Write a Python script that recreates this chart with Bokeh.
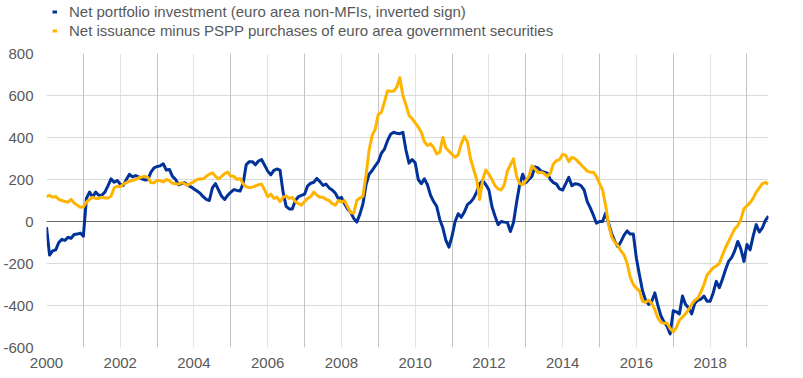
from bokeh.plotting import figure
from bokeh.layouts import column
from bokeh.models import Range1d, FixedTicker, Grid, Span, Legend, LegendItem
from bokeh.embed import file_html
from bokeh.resources import INLINE

# ---- data (monthly, Jan 2000 - Aug 2019), EUR billions ----
start_year = 2000

net_portfolio_investment = [
    -27, -160, -140, -135, -100, -85, -90, -75, -80, -62, -60, -55,      # 2000
    -70, 110, 140, 115, 140, 125, 125, 140, 170, 203, 187, 195,          # 2001
    178, 172, 200, 225, 212, 218, 212, 203, 198, 200, 235, 255,          # 2002
    262, 265, 275, 245, 248, 215, 200, 175, 180, 185, 172, 165,          # 2003
    155, 145, 135, 118, 105, 100, 160, 180, 150, 120, 105, 125,          # 2004
    140, 152, 148, 145, 180, 270, 285, 285, 270, 288, 295, 268,          # 2005
    240, 222, 243, 250, 245, 140, 72, 60, 60, 100, 118, 124,             # 2006
    130, 170, 182, 187, 205, 190, 172, 178, 160, 150, 135, 108,          # 2007
    115, 85, 60, 44, 15, -3, 35, 84, 175, 225, 243, 265,                 # 2008
    285, 325, 345, 385, 415, 425, 420, 418, 425, 340, 278, 295,          # 2009
    280, 200, 180, 203, 175, 125, 95, 72, 10, -30, -90, -122,            # 2010
    -70, 0, 37, 20, 45, 80, 92, 110, 140, 180, 195, 175,                 # 2011
    150, 70, 25, -15, 0, -3, -5, -48, -5, 90, 175, 225,                  # 2012
    185, 200, 215, 260, 255, 240, 235, 230, 200, 185, 178, 155,          # 2013
    150, 180, 210, 170, 180, 178, 170, 150, 95, 65, 30, -8,              # 2014
    0, 0, 40, -10, -60, -95, -120, -95, -65, -45, -60, -60,              # 2015
    -175, -255, -330, -375, -395, -380, -340, -400, -450, -478, -500, -535,  # 2016
    -425, -430, -440, -355, -395, -410, -440, -390, -375, -370, -355, -380,  # 2017
    -380, -340, -285, -315, -275, -230, -190, -172, -140, -95, -130, -190,   # 2018
    -110, -135, -70, -15, -50, -30, 5, 25,                               # 2019
]

net_issuance_minus_pspp = [
    118, 124, 116, 119, 105, 100, 95, 92, 105, 88, 78, 68,               # 2000
    70, 92, 105, 115, 110, 110, 116, 112, 112, 120, 160, 168,            # 2001
    165, 178, 185, 192, 195, 200, 208, 212, 215, 210, 185, 185,          # 2002
    195, 195, 188, 200, 195, 182, 180, 178, 185, 180, 172, 182,          # 2003
    190, 200, 202, 203, 215, 225, 232, 215, 203, 215, 228, 235,          # 2004
    215, 215, 200, 205, 180, 165, 162, 163, 170, 175, 178, 150,          # 2005
    118, 130, 110, 116, 95, 115, 122, 110, 115, 95, 85, 78,              # 2006
    95, 110, 118, 140, 125, 116, 116, 105, 100, 85, 78, 100,             # 2007
    92, 100, 70, 42, 40, 100, 112, 120, 220, 340, 410, 440,              # 2008
    510, 520, 570, 622, 620, 621, 640, 685, 600, 555, 505, 490,          # 2009
    470, 450, 425, 380, 362, 370, 352, 322, 330, 400, 350, 335,          # 2010
    320, 306, 318, 370, 405, 380, 300, 250, 200, 105, 200, 245,          # 2011
    225, 200, 170, 155, 150, 175, 240, 270, 298, 215, 180, 175,          # 2012
    195, 215, 265, 250, 232, 235, 228, 215, 230, 275, 290, 295,          # 2013
    320, 315, 285, 305, 300, 285, 270, 255, 240, 235, 235, 215,          # 2014
    180, 150, 75, -20, -75, -100, -115, -140, -160, -200, -265, -300,    # 2015
    -318, -330, -380, -385, -375, -390, -420, -460, -480, -485, -485, -510,  # 2016
    -525, -505, -470, -455, -440, -420, -395, -375, -365, -335, -300, -255,  # 2017
    -238, -220, -212, -200, -160, -125, -95, -65, -35, -20, 10, 60,      # 2018
    75, 90, 110, 140, 160, 180, 186, 178,                                # 2019
]

series_labels = [
    "Net portfolio investment (euro area non-MFIs, inverted sign)",
    "Net issuance minus PSPP purchases of euro area government securities",
]

x_tick_years = [2000, 2002, 2004, 2006, 2008, 2010, 2012, 2014, 2016, 2018]
odd_years = [2001, 2003, 2005, 2007, 2009, 2011, 2013, 2015, 2017, 2019]
y_ticks = [-600, -400, -200, 0, 200, 400, 600, 800]
y_tick_labels = ["-600", "-400", "-200", "0", "200", "400", "600", "800"]

# ---- build ----
x_dates = [start_year + i / 12 for i in range(len(net_portfolio_investment))]

BLUE = "#003299"
YELLOW = "#FFB400"
TEXT = "#595959"
FONT = "Liberation Sans"
LEGEND_H = 44

p = figure(
    width=803, height=378 - LEGEND_H,
    output_backend="svg", toolbar_location=None,
    x_range=Range1d(start_year, x_dates[-1]),
    y_range=Range1d(-600, 800),
    min_border_left=46, min_border_right=35,
    min_border_top=9, min_border_bottom=31,
)
p.outline_line_color = None
p.background_fill_color = "white"
p.border_fill_color = "white"

# grids
p.xgrid.ticker = FixedTicker(ticks=x_tick_years)
p.xgrid.grid_line_color = "#e2e2e2"
p.xgrid.grid_line_width = 1
odd_grid = Grid(dimension=0, ticker=FixedTicker(ticks=odd_years),
                grid_line_color="#c3c3c3", grid_line_width=1)
p.add_layout(odd_grid)
p.ygrid.ticker = FixedTicker(ticks=y_ticks)
p.ygrid.grid_line_color = "#dadada"
p.ygrid.grid_line_width = 1.2

zero_line = Span(location=0, dimension="width", line_color="#6b6b6b",
                 line_width=1, level="underlay")
p.add_layout(zero_line)

# axes
for ax in (p.xaxis[0], p.yaxis[0]):
    ax.axis_line_color = None
    ax.major_tick_line_color = None
    ax.minor_tick_line_color = None
    ax.major_tick_in = 0
    ax.major_tick_out = 0
    ax.minor_tick_in = 0
    ax.minor_tick_out = 0
    ax.major_label_text_font = FONT
    ax.major_label_text_font_size = "15px"
    ax.major_label_text_color = TEXT

p.xaxis.ticker = FixedTicker(ticks=x_tick_years)
p.xaxis.major_label_standoff = 10
p.yaxis.ticker = FixedTicker(ticks=y_ticks)
p.yaxis.major_label_overrides = {t: l for t, l in zip(y_ticks, y_tick_labels)}
p.yaxis.major_label_standoff = 13

# lines
p.line(x_dates, net_portfolio_investment, line_color=BLUE,
       line_width=3, line_join="round")
p.line(x_dates, net_issuance_minus_pspp, line_color=YELLOW,
       line_width=3, line_join="round")

# ---- legend strip above the plot (same series, outside its visible range) ----
lg = figure(
    width=803, height=LEGEND_H,
    output_backend="svg", toolbar_location=None,
    x_range=Range1d(0, 1), y_range=Range1d(5000, 5001),
    x_axis_type=None, y_axis_type=None,
    min_border_left=0, min_border_right=0,
    min_border_top=0, min_border_bottom=0,
)
lg.outline_line_color = None
lg.xgrid.visible = False
lg.ygrid.visible = False
lb = lg.line(x_dates, net_portfolio_investment, line_color=BLUE, line_width=3)
ly = lg.line(x_dates, net_issuance_minus_pspp, line_color=YELLOW, line_width=3)

legend = Legend(
    items=[LegendItem(label=series_labels[0], renderers=[lb]),
           LegendItem(label=series_labels[1], renderers=[ly])],
    location=(6, 4),
    orientation="vertical",
    padding=0, margin=0, spacing=0,
    glyph_width=5, glyph_height=19, label_height=19,
    label_standoff=12,
    label_text_font=FONT, label_text_font_size="15px",
    label_text_color=TEXT,
    background_fill_alpha=0, border_line_color=None,
)
lg.add_layout(legend)

layout = column(lg, p, spacing=0)
open("out.html", "w").write(file_html(layout, INLINE))
